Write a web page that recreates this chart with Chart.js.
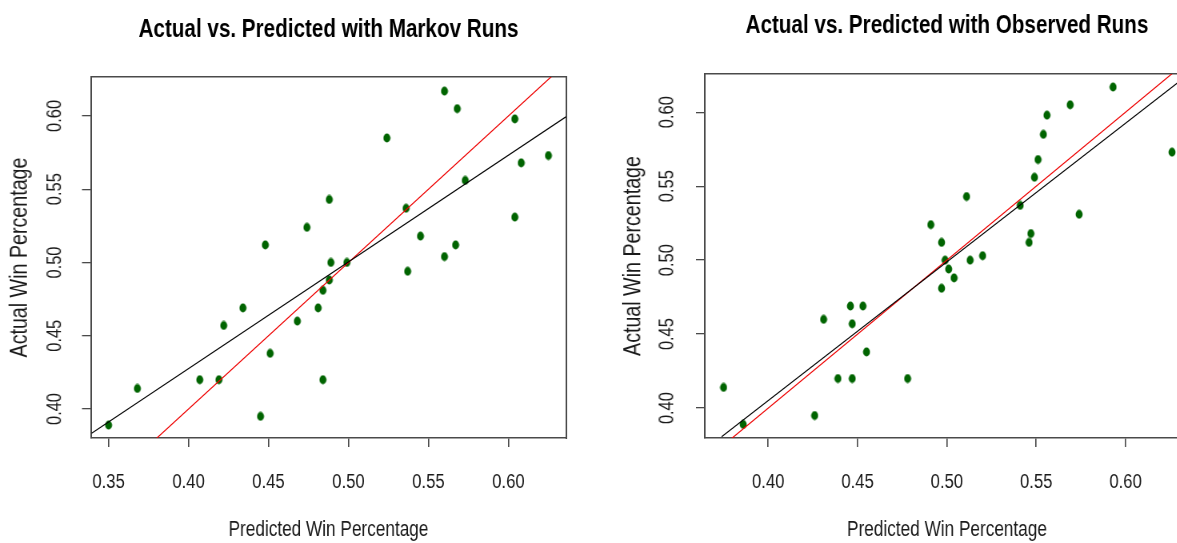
<!DOCTYPE html>
<html><head><meta charset="utf-8">
<script src="https://cdn.jsdelivr.net/npm/chart.js@4.4.1/dist/chart.umd.min.js"></script>
<style>
html,body{margin:0;padding:0;background:#fff;overflow:hidden;width:1177px;height:543px;position:relative;}
.wrap{position:absolute;top:0;height:543px;transform-origin:0 0;}
.main{width:750px;transform:scaleX(0.8);}
.axis{transform:scaleX(1.22);z-index:2;}
#w1,#a1{left:0;}
#w2,#a2{left:600px;}
</style></head><body>
<div class="wrap main" id="w1"><canvas id="c1" width="750" height="543"></canvas></div>
<div class="wrap main" id="w2"><canvas id="c2" width="750" height="543"></canvas></div>
<div class="wrap axis" id="a1"><canvas id="y1" width="78" height="543"></canvas></div>
<div class="wrap axis" id="a2"><canvas id="y2" width="90" height="543"></canvas></div>
<script>
// ---- data ----
const markovPred   = [0.350,0.368,0.407,0.419,0.422,0.434,0.448,0.451,0.445,0.468,0.474,0.481,0.484,0.484,0.488,0.489,0.488,0.499,0.524,0.536,0.537,0.545,0.560,0.560,0.568,0.567,0.573,0.604,0.604,0.608,0.625];
const markovActual = [0.389,0.414,0.420,0.420,0.457,0.469,0.512,0.438,0.395,0.460,0.524,0.469,0.481,0.420,0.488,0.500,0.543,0.500,0.585,0.537,0.494,0.518,0.617,0.504,0.605,0.512,0.556,0.598,0.531,0.568,0.573];
const observedPred   = [0.375,0.386,0.426,0.431,0.439,0.446,0.447,0.447,0.453,0.455,0.478,0.491,0.497,0.497,0.499,0.501,0.504,0.511,0.513,0.520,0.541,0.546,0.547,0.549,0.551,0.554,0.556,0.569,0.574,0.593,0.626];
const observedActual = [0.414,0.389,0.395,0.460,0.420,0.469,0.457,0.420,0.469,0.438,0.420,0.524,0.512,0.481,0.500,0.494,0.488,0.543,0.500,0.503,0.537,0.512,0.518,0.556,0.568,0.585,0.598,0.605,0.531,0.617,0.573];
// fitted regression lines (end points)
const markovFitX = [0.3394, 0.6362];
const markovFitY = [0.3834, 0.5996];
const observedFitX = [0.3739, 0.6355];
const observedFitY = [0.3806, 0.6258];
// y = x reference line end points
const identityLine = [0.30, 0.70];
// ticks
const xTicksMarkov = [0.35,0.40,0.45,0.50,0.55,0.60];
const xTicksObserved = [0.40,0.45,0.50,0.55,0.60];
const yTicks = [0.40,0.45,0.50,0.55,0.60];
const titles = ['Actual vs. Predicted with Markov Runs','Actual vs. Predicted with Observed Runs'];
const xTitle = 'Predicted Win Percentage';
const yTitle = 'Actual Win Percentage';

// The reference uses a narrow face: horizontal text is drawn on a canvas shown
// compressed by S, vertical (y-axis) text on a canvas shown widened by K.
const S = 0.8, K = 1.22;
const H = v => v / S;   // screen x-distance -> bitmap x-distance (main canvas)
const A = v => v / K;   // screen x-distance -> bitmap x-distance (axis canvas)

// ---- fonts ----
const mctx = document.createElement('canvas').getContext('2d');
function available(name){
  const s = 'Actual Win Percentage 0.45';
  for (const base of ['monospace','serif']) {
    mctx.font = '40px ' + base; const a = mctx.measureText(s).width;
    mctx.font = '40px "' + name + '", ' + base; const b = mctx.measureText(s).width;
    if (a === b) return false;
  }
  return true;
}
const FAMILY = ['Liberation Sans','Arial','Arimo'].find(available) || 'sans-serif';
const FAM = '"' + FAMILY + '", sans-serif';
function fit(text, weight, target){ mctx.font = weight + ' 100px ' + FAM; return 100*target/mctx.measureText(text).width; }
const TITLE_SIZE = fit(titles[0], 'bold', H(380));
const XTICK_SIZE = fit('0.40', 'normal', H(32.5));
const YTICK_SIZE = fit('0.60', 'normal', 32);
const XT_SIZE = fit(xTitle, 'normal', H(200));
const YT_SIZE = fit(yTitle, 'normal', 200);
function vCenter(text, weight, size, baseline){
  mctx.font = weight + ' ' + size + 'px ' + FAM; mctx.textBaseline = baseline;
  const m = mctx.measureText(text);
  return (m.actualBoundingBoxDescent - m.actualBoundingBoxAscent)/2;
}
function widest(labels, size){ mctx.font = 'normal ' + size + 'px ' + FAM; return Math.max(...labels.map(l=>mctx.measureText(l).width)); }
const TLX = 9;      // vertical tick marks on x axis
const TLY = H(9);   // horizontal tick marks on y axis
const AXIS_COLOR = '#4a4a4a', TEXT_COLOR = '#1a1a1a';
const fmt = v => Number(v).toFixed(2);

function makeDot(r,color){
  const d = Math.ceil(2*r)+1;
  const c = document.createElement('canvas'); c.width=d; c.height=d;
  const g = c.getContext('2d'); g.fillStyle=color; g.beginPath();
  g.arc(d/2,d/2,r,0,Math.PI*2); g.fill(); return c;
}
const DOT = makeDot(4.4,'#006400');

function build(id, cfg){
  const lhT = TITLE_SIZE*1.2;
  const titleTop = cfg.titleCenter - vCenter('A','bold',TITLE_SIZE,'middle') - lhT/2;
  const titleBottom = cfg.top - titleTop - lhT;
  const tickPadX = cfg.xLabelCenter - cfg.bottom - TLX - vCenter('0.40','normal',XTICK_SIZE,'top');
  const lhX = XT_SIZE*1.2;
  const xTitlePad = 543 - cfg.xTitleCenter - lhX/2 + vCenter('P','normal',XT_SIZE,'middle');
  const border = {display:true, color:AXIS_COLOR, width:1.6};
  const vborder = {display:true, color:AXIS_COLOR, width:H(1.6)};
  return new Chart(document.getElementById(id), {
    type:'scatter',
    data:{datasets:[
      {type:'line', data: cfg.fitX.map((x,i)=>({x, y: cfg.fitY[i]})), borderColor:'#000', borderWidth:1.2, pointRadius:0, tension:0, fill:false},
      {type:'line', data: identityLine.map(v=>({x:v, y:v})), borderColor:'#ee0000', borderWidth:1.2, pointRadius:0, tension:0, fill:false},
      {type:'scatter', data: cfg.pred.map((x,i)=>({x, y: cfg.actual[i]})), pointStyle: DOT, pointRadius:4.5, backgroundColor:'#006400', borderWidth:0}
    ]},
    options:{
      responsive:false, animation:false, events:[],
      layout:{padding:{left:0, right:H(cfg.padRight), top:0, bottom:0}},
      plugins:{
        legend:{display:false}, tooltip:{enabled:false},
        title:{display:true, text:cfg.title, fullSize:false, color:'#000', align:'center',
          font:{family:FAM, size:TITLE_SIZE, weight:'bold', lineHeight:1.2},
          padding:{top:titleTop, bottom:titleBottom}}
      },
      scales:{
        x:{type:'linear', position:'bottom', min:cfg.xMin, max:cfg.xMax,
          afterBuildTicks: s => { s.ticks = cfg.xTicks.map(v=>({value:v})); },
          afterFit: s => { s.height = 543 - cfg.bottom; },
          grid:{drawOnChartArea:false, drawTicks:true, tickLength:TLX, color:AXIS_COLOR, lineWidth:H(1.3)},
          border,
          ticks:{callback: fmt, color:TEXT_COLOR, font:{family:FAM, size:XTICK_SIZE}, padding:tickPadX, autoSkip:false, maxRotation:0, minRotation:0, includeBounds:false},
          title:{display:true, text:xTitle, color:TEXT_COLOR, font:{family:FAM, size:XT_SIZE, lineHeight:1.2}, padding:{top:0, bottom:xTitlePad}}
        },
        y:{type:'linear', position:'left', min:cfg.yMin, max:cfg.yMax,
          afterBuildTicks: s => { s.ticks = yTicks.map(v=>({value:v})); },
          afterFit: s => { s.width = H(cfg.left); },
          grid:{drawOnChartArea:false, drawTicks:true, tickLength:TLY, color:AXIS_COLOR, lineWidth:1.3},
          border: vborder,
          ticks:{display:false, callback: fmt, includeBounds:false},
          title:{display:false}
        },
        x2:{type:'linear', position:'top', min:cfg.xMin, max:cfg.xMax, grid:{display:false}, ticks:{display:false}, border, afterFit: s => { s.height = 0; }},
        y2:{type:'linear', position:'right', min:cfg.yMin, max:cfg.yMax, grid:{display:false}, ticks:{display:false}, border: vborder, afterFit: s => { s.width = 0; }}
      }
    }
  });
}

// y-axis labels and title, on their own (widened) canvas, same scale limits
function buildYAxis(id, cfg){
  const canvas = document.getElementById(id);
  const yW = A(cfg.left);
  const wY = widest(yTicks.map(fmt), YTICK_SIZE);
  const centerB = A(cfg.left - cfg.yLabelOffset);
  const tickPad = yW - centerB - wY/2 + vCenter('0.60','normal',YTICK_SIZE,'middle');
  const lhY = YT_SIZE*1.2;
  const titlePad = A(cfg.yTitleCenter) - lhY/2 - vCenter(yTitle,'normal',YT_SIZE,'middle');
  return new Chart(canvas, {
    type:'scatter',
    data:{datasets:[{data:[]}]},
    options:{
      responsive:false, animation:false, events:[],
      layout:{padding:{left:0, right:canvas.width - yW - 2, top:cfg.top, bottom:543 - cfg.bottom}},
      plugins:{legend:{display:false}, tooltip:{enabled:false}, title:{display:false}},
      scales:{
        x:{type:'linear', display:false, min:0, max:1},
        y:{type:'linear', position:'left', min:cfg.yMin, max:cfg.yMax,
          afterBuildTicks: s => { s.ticks = yTicks.map(v=>({value:v})); },
          afterFit: s => { s.width = yW; },
          grid:{display:false}, border:{display:false},
          ticks:{callback: fmt, color:TEXT_COLOR, font:{family:FAM, size:YTICK_SIZE}, padding:tickPad, autoSkip:false, minRotation:90, maxRotation:90, crossAlign:'center', includeBounds:false},
          title:{display:true, text:yTitle, color:TEXT_COLOR, font:{family:FAM, size:YT_SIZE, lineHeight:1.2}, padding:{top:titlePad, bottom:0}}
        }
      }
    }
  });
}

const left = {title:titles[0], pred:markovPred, actual:markovActual, fitX:markovFitX, fitY:markovFitY, xTicks:xTicksMarkov,
  xMin:0.339, xMax:0.636, yMin:0.3802, yMax:0.6266,
  left:91, padRight:34, top:77, bottom:438, titleCenter:27.5, xLabelCenter:479, xTitleCenter:528, yLabelOffset:28, yTitleCenter:20};
const right = {title:titles[1], pred:observedPred, actual:observedActual, fitX:observedFitX, fitY:observedFitY, xTicks:xTicksObserved,
  xMin:0.3646, xMax:0.6355, yMin:0.3798, yMax:0.6258,
  left:105, padRight:11, top:74, bottom:438, titleCenter:24, xLabelCenter:479, xTitleCenter:528, yLabelOffset:29, yTitleCenter:33};
build('c1', left);  buildYAxis('y1', left);
build('c2', right); buildYAxis('y2', right);
</script>
</body></html>
